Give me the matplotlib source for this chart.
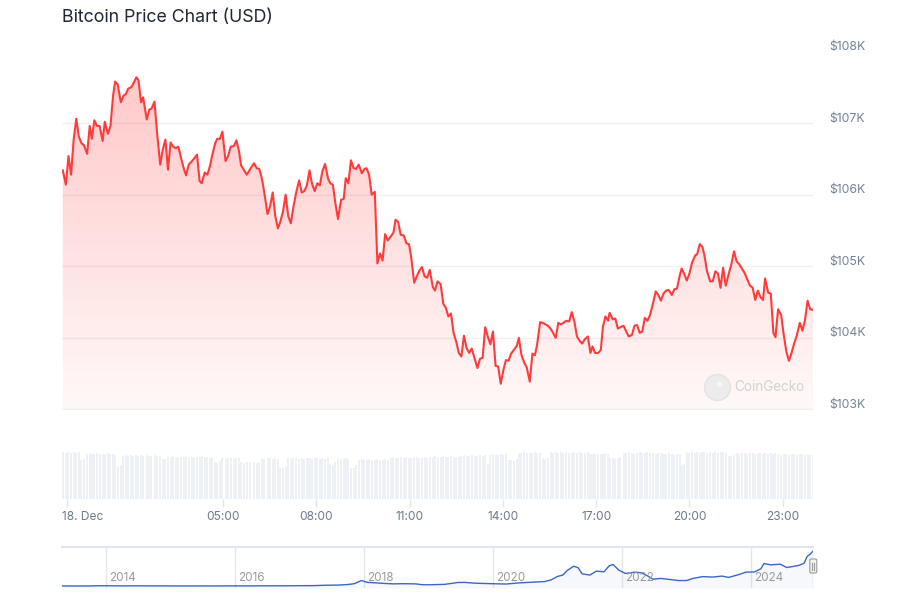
import numpy as np
import matplotlib.pyplot as plt
import matplotlib.transforms as mtransforms
from matplotlib.patches import FancyBboxPatch

plt.rcParams['font.family'] = ['Inter', 'DejaVu Sans']

# minutes after 18 Dec 00:00 and price in thousand USD
minutes = [
    -9, -3, 2, 7, 12, 17, 22, 27, 32, 38, 43, 47, 52, 57, 62, 68, 72, 78, 83, 88,
    92, 97, 103, 108, 113, 117, 123, 127, 133, 137, 142, 146, 153, 158, 162, 168, 173, 179, 184, 189,
    194, 199, 204, 209, 214, 220, 225, 229, 234, 240, 245, 250, 255, 259, 265, 270, 275, 279, 285, 289,
    294, 299, 305, 310, 315, 321, 326, 331, 335, 341, 346,
    352, 360, 365, 370, 375, 380, 386, 391, 396, 401, 406, 411, 416, 421, 426, 431, 436, 441, 447, 452,
    457, 462, 467, 472, 477, 482, 487, 492, 497, 503, 507, 512, 517, 522, 528, 533, 537, 542, 547, 552,
    557, 562, 568, 573, 577, 582, 587, 593, 598, 603, 608, 613, 618, 624, 629, 633, 638, 643, 649, 654,
    659, 663, 669, 674, 679, 684, 689, 694, 699,
    705, 709, 714, 720, 725, 730, 735, 740, 745, 750, 755, 760, 765, 770, 775, 780, 786, 791, 796, 801,
    806, 811, 816, 821, 826, 831, 836, 841, 846, 851, 856, 861, 867, 871, 876, 881, 886, 892, 897, 902,
    906, 912, 917, 922, 927, 932, 937, 942, 947, 952, 957, 962, 968, 973, 978, 983, 988, 993, 998, 1004,
    1009, 1013, 1018, 1024, 1029, 1033, 1038, 1043,
    1046, 1052, 1057, 1062, 1067, 1073, 1078, 1083, 1089, 1094, 1099, 1104, 1109, 1114, 1119, 1124, 1130, 1135, 1140, 1145,
    1150, 1155, 1160, 1166, 1171, 1176, 1181, 1185, 1190, 1195, 1200, 1205, 1211, 1215, 1220, 1225, 1229, 1234, 1240, 1245,
    1250, 1255, 1260, 1265, 1270, 1276, 1281, 1286, 1291, 1296, 1301, 1307, 1312, 1317, 1322, 1327, 1332, 1337, 1342, 1346,
    1352, 1357, 1362, 1366, 1371, 1377, 1382, 1387, 1392, 1397, 1402, 1407, 1413, 1418, 1423, 1428, 1433, 1439,
]
price_k = [
    106.34, 106.14, 106.54, 106.28, 106.77, 107.06, 106.81, 106.72, 106.69, 106.57,
    106.96, 106.78, 107.04, 106.96, 106.96, 106.75, 107.02, 106.85, 106.96, 107.38,
    107.58, 107.54, 107.29, 107.38, 107.41, 107.48, 107.50, 107.55, 107.64, 107.60,
    107.29, 107.36, 107.05, 107.19, 107.20, 107.30, 106.86, 106.42, 106.63, 106.77,
    106.35, 106.73, 106.67, 106.65, 106.67, 106.49, 106.35, 106.27, 106.42, 106.47,
    106.51, 106.56, 106.19, 106.16, 106.31, 106.28, 106.40, 106.54, 106.72, 106.78,
    106.78, 106.88, 106.47, 106.54, 106.67, 106.68, 106.76, 106.61, 106.41, 106.34,
    106.28,
    106.35, 106.44, 106.37, 106.36, 106.23, 106.02, 105.73, 105.84, 106.03, 105.70,
    105.53, 105.63, 105.77, 106.00, 105.70, 105.60, 105.83, 106.02, 106.20, 106.03,
    106.05, 106.13, 106.34, 106.15, 106.05, 106.16, 106.13, 106.33, 106.43, 106.22,
    106.16, 106.14, 105.88, 105.66, 105.93, 105.94, 106.23, 106.16, 106.48, 106.37,
    106.36, 106.42, 106.30, 106.36, 106.37, 106.28, 106.00, 106.04, 105.04, 105.18,
    105.08, 105.45, 105.36, 105.42, 105.47, 105.65, 105.62, 105.44, 105.43, 105.32,
    105.31, 105.14, 104.77, 104.86, 104.94, 104.99, 104.86, 104.84, 104.95,
    104.71, 104.66, 104.79, 104.75, 104.48, 104.42, 104.30, 104.34, 104.07, 103.95,
    103.79, 103.74, 104.03, 103.86, 103.79, 103.85, 103.70, 103.58, 103.71, 103.72,
    104.15, 104.02, 103.91, 104.09, 103.61, 103.60, 103.36, 103.55, 103.69, 103.68,
    103.78, 103.83, 103.89, 104.00, 103.76, 103.66, 103.59, 103.39, 103.78, 103.76,
    103.90, 104.22, 104.21, 104.19, 104.17, 104.13, 104.07, 104.00, 104.21, 104.19,
    104.21, 104.24, 104.23, 104.36, 104.23, 104.02, 103.96, 103.92, 103.98, 104.02,
    103.79, 103.88, 103.79, 103.79, 103.83, 104.15, 104.30, 104.24,
    104.35, 104.26, 104.27, 104.13, 104.15, 104.17, 104.09, 104.02, 104.04, 104.17,
    104.18, 104.07, 104.09, 104.28, 104.24, 104.32, 104.49, 104.65, 104.60, 104.52,
    104.62, 104.66, 104.67, 104.60, 104.68, 104.69, 104.86, 104.97, 104.89, 104.80,
    104.90, 105.05, 105.15, 105.17, 105.31, 105.27, 105.15, 104.93, 104.79, 104.79,
    104.93, 104.90, 104.70, 104.98, 104.73, 104.90, 105.03, 105.21, 105.07, 105.03,
    104.97, 104.90, 104.81, 104.73, 104.70, 104.53, 104.66, 104.57, 104.53, 104.83,
    104.63, 104.62, 104.07, 104.01, 104.40, 104.32, 104.04, 103.81, 103.68, 103.79,
    103.92, 104.03, 104.21, 104.10, 104.25, 104.52, 104.40, 104.39,
]
# traded volume, relative units
volume = [
    100, 99, 100, 98, 100, 99, 100, 84, 86, 97, 98, 96, 97, 98, 97, 96, 97, 98, 97, 96,
    95, 70, 72, 93, 94, 92, 94, 93, 94, 92, 95, 93, 94, 92, 93, 94, 92, 93, 86, 87,
    91, 90, 92, 91, 89, 91, 90, 92, 91, 90, 89, 91, 90, 92, 91, 90, 89, 91, 80, 78,
    81, 88, 87, 89, 88, 87, 88, 89, 80, 78, 79,
    79, 80, 78, 80, 88, 87, 89, 88, 86, 88, 87, 67, 66, 70, 88, 87, 89, 88, 87, 88,
    86, 89, 88, 87, 88, 89, 87, 88, 86, 88, 75, 74, 80, 88, 87, 89, 88, 87, 67, 66,
    72, 84, 85, 83, 84, 86, 84, 83, 85, 84, 83, 85, 84, 89, 90, 88, 89, 91, 89, 90,
    88, 89, 91, 90, 89, 88, 90, 89, 91,
    91, 92, 90, 91, 93, 91, 90, 92, 91, 90, 91, 93, 94, 92, 93, 95, 93, 92, 94, 93,
    94, 76, 95, 96, 94, 95, 97, 95, 96, 83, 84, 82, 85, 99, 98, 100, 99, 98, 99, 100,
    98, 99, 88, 87, 89, 100, 99, 100, 98, 100, 99, 100, 99, 98, 100, 99, 100, 99, 98, 100,
    97, 96, 98, 97, 96, 97, 98, 96,
    88, 89, 87, 88, 90, 99, 98, 100, 99, 97, 99, 100, 98, 99, 100, 98, 99, 97, 99, 98,
    97, 96, 98, 97, 95, 97, 96, 73, 75, 100, 99, 100, 98, 100, 99, 101, 100, 99, 100, 98,
    100, 99, 100, 101, 99, 93, 92, 94, 98, 97, 99, 98, 96, 98, 99, 97, 98, 99, 97, 98,
    96, 98, 97, 99, 96, 95, 97, 96, 95, 97, 96, 95, 96, 97, 95, 96, 95, 94,
]

y_ticks = [103, 104, 105, 106, 107, 108]
x_ticks = [0, 300, 480, 660, 840, 1020, 1200, 1380]
x_labels = ['18. Dec', '05:00', '08:00', '11:00', '14:00', '17:00', '20:00', '23:00']

# long-term history for the navigator (year, price in thousand USD)
nav_year = [
    2013.33, 2013.5, 2013.75, 2013.9, 2014.0, 2014.1, 2014.3, 2014.5, 2014.75, 2015.0,
    2015.25, 2015.5, 2015.75, 2015.92, 2016.25, 2016.5, 2016.75, 2016.98, 2017.2, 2017.4,
    2017.6, 2017.75, 2017.85, 2017.96, 2018.05, 2018.15, 2018.3, 2018.45, 2018.6, 2018.8,
    2018.9, 2019.0, 2019.25, 2019.45, 2019.55, 2019.75, 2019.95, 2020.2, 2020.4, 2020.6,
    2020.8, 2020.9, 2021.0, 2021.08, 2021.15, 2021.25, 2021.32, 2021.38, 2021.5, 2021.6,
    2021.72, 2021.8, 2021.86, 2021.95, 2022.05, 2022.2, 2022.3, 2022.4, 2022.48, 2022.6,
    2022.75, 2022.88, 2023.0, 2023.1, 2023.25, 2023.4, 2023.55, 2023.65, 2023.8, 2023.92,
    2024.05, 2024.15, 2024.2, 2024.3, 2024.45, 2024.55, 2024.65, 2024.75, 2024.82, 2024.87,
    2024.92, 2024.96,
]
nav_price = [
    0.13, 0.09, 0.13, 0.8, 0.77, 0.6, 0.45, 0.62, 0.38, 0.3,
    0.23, 0.27, 0.24, 0.43, 0.42, 0.65, 0.61, 0.95, 1.1, 2.3,
    2.8, 4.5, 7.0, 16.5, 11.0, 10.0, 8.0, 6.5, 7.0, 6.4,
    4.0, 3.7, 5.0, 10.5, 11.0, 8.3, 7.2, 6.0, 9.3, 11.5,
    13.5, 18.5, 29.0, 33.0, 47.0, 60.0, 55.0, 37.0, 33.0, 45.0,
    43.0, 61.0, 65.0, 48.0, 38.0, 42.0, 40.0, 30.0, 20.5, 23.0,
    19.5, 16.5, 16.7, 23.0, 28.5, 27.0, 30.0, 26.0, 34.0, 42.0,
    42.5, 52.0, 68.0, 64.0, 66.0, 56.0, 59.0, 63.0, 69.0, 90.0,
    97.0, 106.0,
]
nav_years_labeled = [2014, 2016, 2018, 2020, 2022, 2024]

W, H = 908, 599
fig = plt.figure(figsize=(W / 100, H / 100), dpi=100)


def add_px_axes(x0, y0, x1, y1):
    return fig.add_axes([x0 / W, 1 - y1 / H, (x1 - x0) / W, (y1 - y0) / H])


ax = add_px_axes(62, 51.5, 813.3, 409.5)
vol = add_px_axes(62, 452, 813.3, 499)
nav = add_px_axes(62, 547, 813.3, 588)

xmin, xmax = -10.5, minutes[-1]

# --- main price chart
ax.set_xlim(xmin, xmax)
ax.set_ylim(y_ticks[0], y_ticks[-1])
for s in ax.spines.values():
    s.set_visible(False)
ax.set_xticks([])
ax.yaxis.tick_right()
ax.set_yticks(y_ticks)
ax.set_yticklabels([f'${v}K' for v in y_ticks])
ax.tick_params(axis='y', length=0, pad=11.5, labelsize=8.8, labelcolor='#75829a')
up = mtransforms.ScaledTranslation(0, 0.06, fig.dpi_scale_trans)
for lab in ax.get_yticklabels():
    lab.set_transform(lab.get_transform() + up)
ax.grid(axis='y', color='#f0f0f0', lw=1)
ax.set_axisbelow(True)

# gradient area under the line
alpha = np.linspace(0.23, 0.03, 256)
rgba = np.zeros((256, 1, 4))
rgba[..., 0] = 1.0
rgba[..., 3] = alpha[:, None]
img = ax.imshow(rgba, extent=[xmin, xmax, y_ticks[0], y_ticks[-1]], aspect='auto',
                origin='upper', zorder=1, interpolation='bilinear')
area = ax.fill_between(minutes, price_k, y_ticks[0], color='none', lw=0)
img.set_clip_path(area.get_paths()[0], transform=ax.transData)
ax.plot(minutes, price_k, color='#ff3b3b', lw=1.5, zorder=3, solid_joinstyle='round')

# watermark
ax.plot([0.872], [0.064], 'o', ms=18.7, mfc='#ececec', mec='#e3e3e3', mew=1,
        transform=ax.transAxes, zorder=2)
ax.plot([0.875], [0.072], 'o', ms=4, mfc='#f7f7f7', mec='none',
        transform=ax.transAxes, zorder=2)
ax.text(0.895, 0.064, 'CoinGecko', transform=ax.transAxes, fontsize=9.75,
        color='#d2d2d2', va='center', ha='left', zorder=2)

# --- volume bars
vol.bar(minutes, volume, width=3.9, color='#edf0f4', lw=0)
vol.set_xlim(xmin, xmax)
vol.set_ylim(0, 101)
for s in vol.spines.values():
    s.set_visible(False)
vol.set_yticks([])
vol.set_xticks(x_ticks)
vol.set_xticklabels(x_labels)
vol.tick_params(axis='x', length=6, width=1, color='#e6e6e6', pad=2.5,
                labelsize=8.6, labelcolor='#6f7a8c')
first = vol.get_xticklabels()[0]
first.set_ha('left')
first.set_transform(first.get_transform()
                    + mtransforms.ScaledTranslation(-0.055, 0, fig.dpi_scale_trans))

# --- navigator
nav_lo, nav_hi = 2013.32, 2024.963
nav.fill_between(nav_year, nav_price, -6, color='#335cad', alpha=0.04, lw=0)
nav.plot(nav_year, nav_price, color='#3a67c4', lw=1)
nav.set_xlim(nav_lo, nav_hi)
nav.set_ylim(-6, 118)
for side in ['left', 'right', 'bottom']:
    nav.spines[side].set_visible(False)
nav.spines['top'].set_color('#e1e6ed')
nav.spines['top'].set_linewidth(1.6)
nav.set_yticks([])
nav.set_xticks(nav_years_labeled)
nav.tick_params(axis='x', length=0, labelbottom=False)
nav.grid(axis='x', color='#e6e6e6', lw=1)
nav.set_axisbelow(True)
shift = mtransforms.ScaledTranslation(0.03, 0, fig.dpi_scale_trans)
blend = mtransforms.blended_transform_factory(nav.transData, nav.transAxes)
for yr in nav_years_labeled:
    nav.text(yr, 0.25, str(yr), transform=blend + shift, fontsize=8.4,
             color='#9a9a9a', ha='left', va='center')
nav.axvline(nav_hi, color='#cdd4de', lw=1)

# navigator handle at the right edge
fig.canvas.draw()
hx, hy = nav.transData.transform((nav_hi, 0))
hy = fig.bbox.height - 566
handle = FancyBboxPatch((hx - 3.5, hy - 7), 7, 14, boxstyle='round,pad=0,rounding_size=1.5',
                        transform=None, facecolor='#f2f2f2', edgecolor='#9a9a9a', lw=0.8,
                        zorder=5)
fig.add_artist(handle)
for dx in (-1.2, 1.2):
    fig.add_artist(plt.Line2D([hx + dx, hx + dx], [hy - 3.5, hy + 3.5], transform=None,
                              color='#9a9a9a', lw=0.8, zorder=6))

fig.text(62 / W, 1 - 18 / H, 'Bitcoin Price Chart (USD)', fontsize=12.8, color='#1f2636',
         ha='left', va='center')

fig.savefig('out.png', dpi=100)
